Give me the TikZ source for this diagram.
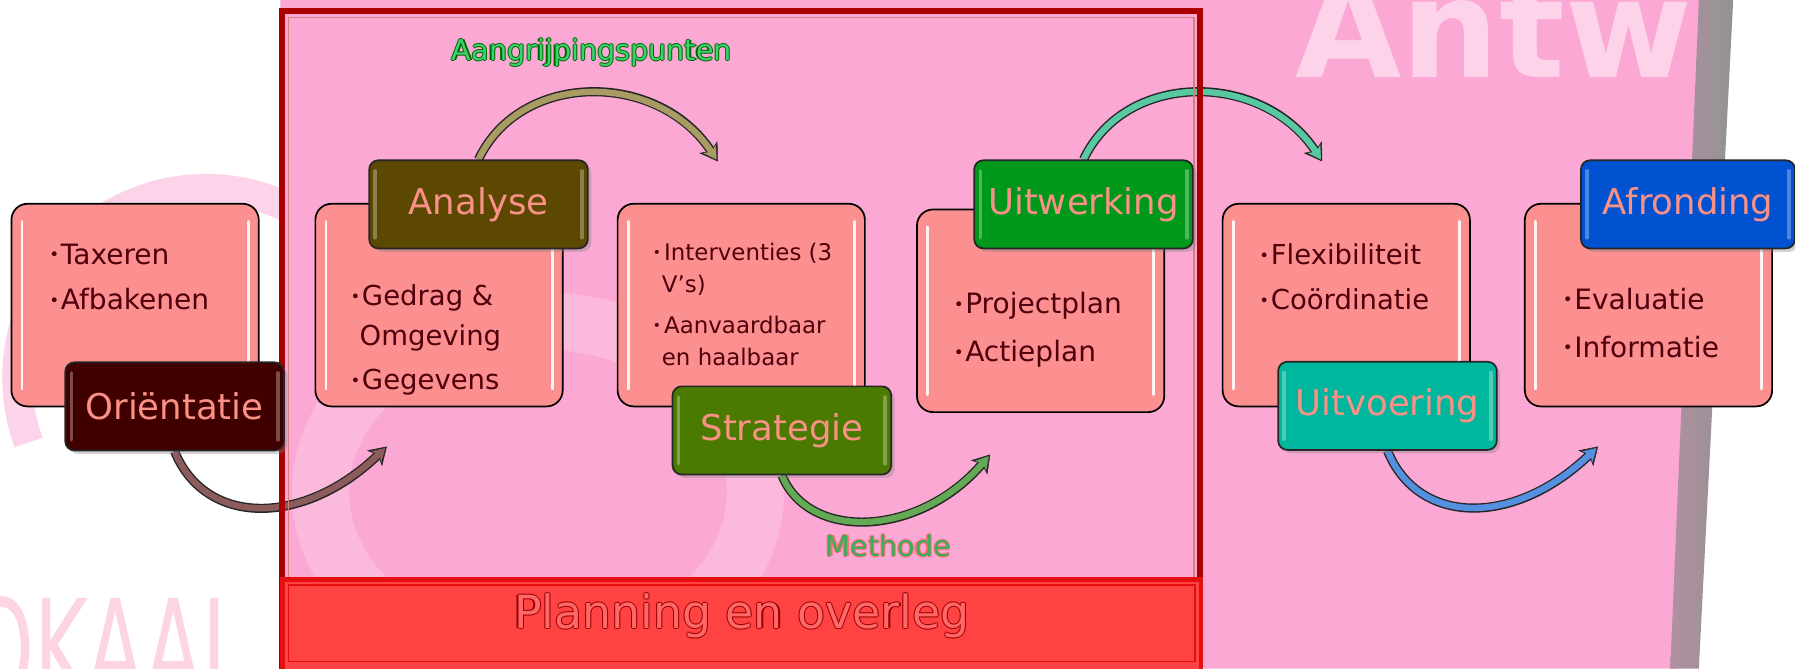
\documentclass[tikz,border=0pt]{standalone}
\usepackage{fontspec}
\setmainfont{DejaVu Sans}
\usetikzlibrary{calc,arrows.meta,shadows}

\definecolor{pinkbg}{RGB}{251,168,212}
\definecolor{framered}{RGB}{170,0,0}
\definecolor{bandred}{RGB}{255,66,66}
\definecolor{bandedge}{RGB}{228,16,16}
\definecolor{boxpink}{RGB}{252,144,144}
\definecolor{boxtext}{RGB}{80,0,12}
\definecolor{titletext}{RGB}{250,145,135}
\definecolor{oricol}{RGB}{64,0,0}
\definecolor{anacol}{RGB}{92,72,0}
\definecolor{strcol}{RGB}{74,122,0}
\definecolor{uwkcol}{RGB}{0,152,26}
\definecolor{uvrcol}{RGB}{0,182,156}
\definecolor{afrcol}{RGB}{0,82,208}
\definecolor{arra}{RGB}{140,92,92}
\definecolor{arrb}{RGB}{168,156,98}
\definecolor{arrc}{RGB}{100,170,84}
\definecolor{arrd}{RGB}{88,200,160}
\definecolor{arre}{RGB}{84,144,224}
\definecolor{labgreen}{RGB}{60,210,110}

\newcommand{\bul}{\makebox[10pt][l]{\raisebox{0.12em}{\scalebox{0.6}{\textbullet}}}}
\newcommand{\glowtext}[3]{{\leavevmode\rlap{\color{#1}\hspace*{1pt}#3}\rlap{\color{#1}\hspace*{-1pt}#3}\rlap{\color{#1}\raisebox{1pt}{#3}}\rlap{\color{#1}\raisebox{-1pt}{#3}}\color{#2}#3}}

\pgfdeclarelayer{bg}
\pgfdeclarelayer{arrowlayer}
\pgfdeclarelayer{framelayer}
\pgfsetlayers{bg,arrowlayer,framelayer,main}

\tikzset{
  stepbox/.style={draw=black, line width=1.5, fill=boxpink, rounded corners=14, minimum width=216, minimum height=177, inner sep=0},
  titlebox/.style={draw=black!85, line width=1.5, rounded corners=8, minimum width=191, minimum height=77, inner sep=0, text=titletext, font=\fontsize{31}{36}\selectfont, drop shadow={shadow xshift=3pt, shadow yshift=-3pt, opacity=0.35}},
  itemtext/.style={anchor=west, align=left, inner sep=0, text=boxtext, font=\fontsize{24.5}{40}\selectfont},
  gloss/.style={white, line width=2.5, line cap=round, opacity=0.9},
  tgloss/.style={white, line width=3, line cap=round, opacity=0.3},
  bendarrow/.style={draw=#1, line width=5.5, -{Stealth[length=11pt,width=13pt,inset=3pt,line width=0.5pt]}, shorten >=2pt,
    preaction={draw=black!85, line width=8, -{Stealth[length=15pt,width=19pt,inset=4pt,line width=0.5pt]}, shorten >=0pt}},
  greenlabel/.style={inner sep=0, font=\fontsize{25}{30}\selectfont},
}

\begin{document}
\begin{tikzpicture}[x=1pt,y=1pt,yscale=-1,xscale=1]
\useasboundingbox (0,0) rectangle (1568,584);

\begin{pgfonlayer}{bg}
%Backdrop
\fill[white] (0,0) rectangle (1568,584);
\fill[pinkbg] (245,0) -- (1490,0) -- (1464,584) -- (245,584) -- cycle;
\shade[left color=pinkbg!40!gray, right color=gray!85] (1484,0) -- (1514,0) -- (1484,584) -- (1459,584) -- cycle;
\draw[pinkbg, line width=26, opacity=0.5] (180,330) ++(-20:165) arc[start angle=-20, end angle=-200, radius=165];
\draw[white, opacity=0.2, line width=50] (470,430) ellipse [x radius=190, y radius=150];
% Text Node
\node[anchor=base west, text=white, opacity=0.5, font=\bfseries\fontsize{120}{120}\selectfont] (antw) at (1128,68) {Antw};
% Text Node
\node[anchor=base west, text=pinkbg!80!red, opacity=0.35, font=\fontsize{120}{120}\selectfont] (okaal) at (-30,610) {\scalebox{0.6}[1]{OKAAL}};
\end{pgfonlayer}

%Content boxes
\node[stepbox] (oribox) at (118,266.5) {};
\node[stepbox] (anabox) at (383.5,266.5) {};
\node[stepbox] (strbox) at (647.5,266.5) {};
\node[stepbox] (uwkbox) at (909,271.5) {};
\node[stepbox] (uvrbox) at (1176,266.5) {};
\node[stepbox] (afrbox) at (1440,266.5) {};

\foreach \b in {oribox,anabox,strbox,uwkbox,uvrbox,afrbox}{
  \draw[gloss] ($(\b.north west)+(10,16)$) -- ($(\b.south west)+(10,-16)$);
  \draw[gloss] ($(\b.north east)+(-10,16)$) -- ($(\b.south east)+(-10,-16)$);
}

% Text Node
\node[itemtext] (oritext) at (43,242) {\bul Taxeren\\ \bul Afbakenen};
% Text Node
\node[itemtext, font=\fontsize{24}{35}\selectfont] (anatext) at (306,297) {\bul Gedrag \&\\ \hspace*{8pt}Omgeving\\[3pt] \bul Gegevens};
% Text Node
\node[itemtext, font=\fontsize{20}{28}\selectfont] (strtext) at (570,266) {\bul Interventies (3\\ \hspace*{8pt}V’s)\\[8pt] \bul Aanvaardbaar\\ \hspace*{8pt}en haalbaar};
% Text Node
\node[itemtext, font=\fontsize{24.5}{42}\selectfont] (uwktext) at (833,288) {\bul Projectplan\\ \bul Actieplan};
% Text Node
\node[itemtext, font=\fontsize{24}{39}\selectfont] (uvrtext) at (1100,242) {\bul Flexibiliteit\\ \bul Coördinatie};
% Text Node
\node[itemtext, font=\fontsize{24.5}{42}\selectfont] (afrtext) at (1365,282) {\bul Evaluatie\\ \bul Informatie};

%Step titles
\node[titlebox, fill=oricol] (orititle) at (152.5,355) {Oriëntatie};
\node[titlebox, fill=anacol] (anatitle) at (418,178.5) {Analyse};
\node[titlebox, fill=strcol] (strtitle) at (683,376) {Strategie};
\node[titlebox, fill=uwkcol] (uwktitle) at (946.5,178.5) {Uitwerking};
\node[titlebox, fill=uvrcol] (uvrtitle) at (1212,354.5) {Uitvoering};
\node[titlebox, fill=afrcol, minimum width=187] (afrtitle) at (1474.5,178.5) {Afronding};

\foreach \t in {orititle,anatitle,strtitle,uwktitle,uvrtitle,afrtitle}{
  \draw[tgloss] ($(\t.north west)+(6,10)$) -- ($(\t.south west)+(6,-10)$);
  \draw[tgloss] ($(\t.north east)+(-6,10)$) -- ($(\t.south east)+(-6,-10)$);
}

%Arrow ends
\coordinate (tipa) at (338,390);
\coordinate (tipb) at (627,141);
\coordinate (tipc) at (865,397);
\coordinate (tipd) at (1155,141);
\coordinate (tipe) at (1396,390);

\begin{pgfonlayer}{arrowlayer}
%Curve Lines
\draw[bendarrow=arra] (orititle.south) .. controls +(27,66) and +(-73,70) .. (tipa);
%Curve Lines
\draw[bendarrow=arrb] (anatitle.north) .. controls +(37,-78) and +(-52,-79) .. (tipb);
%Curve Lines
\draw[bendarrow=arrc] (strtitle.south) .. controls +(24,58) and +(-62,72) .. (tipc);
%Curve Lines
\draw[bendarrow=arrd] (uwktitle.north) .. controls +(37,-78) and +(-52,-79) .. (tipd);
%Curve Lines
\draw[bendarrow=arre] (uvrtitle.south) .. controls +(27,66) and +(-73,70) .. (tipe);
\end{pgfonlayer}

\begin{pgfonlayer}{framelayer}
%Shape: Frame
\draw[framered, line width=5] (246.5,9.5) rectangle (1048.5,590);
\draw[framered!50!white, line width=1] (252,15.5) rectangle (1043,505);
%Shape: Band
\fill[bandred] (245,504) rectangle (1051,590);
\draw[bandedge, line width=4] (247,506) rectangle (1049,592);
\draw[bandedge, line width=1.2] (252,511) rectangle (1044,578);
\end{pgfonlayer}

% Text Node
\node[inner sep=0, font=\fontsize{40}{46}\selectfont] (planning) at (648,538) {\glowtext{red!60!black}{bandred!70!pink}{Planning en overleg}};
% Text Node
\node[greenlabel] (aangrijp) at (517,46) {\glowtext{green!40!black}{labgreen}{Aangrijpingspunten}};
% Text Node
\node[greenlabel] (methode) at (776,477) {\glowtext{red!45!pink}{labgreen!85!black}{Methode}};

\end{tikzpicture}
\end{document}
